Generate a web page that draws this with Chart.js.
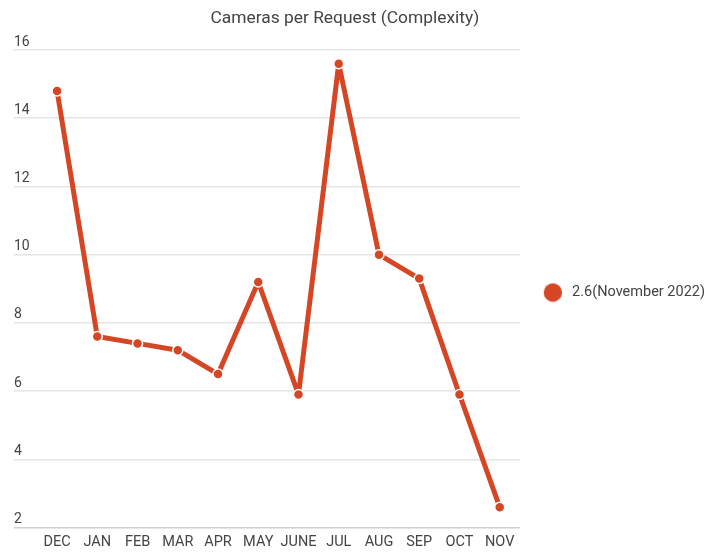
<!DOCTYPE html>
<html><head><meta charset="utf-8">
<script src="https://cdn.jsdelivr.net/npm/chart.js@4"></script>
<style>html,body{margin:0;padding:0;background:#fff}#wrap{width:723px;height:554px}</style>
</head><body><div id="wrap"><canvas id="c"></canvas></div>
<script>
const categories = ['DEC','JAN','FEB','MAR','APR','MAY','JUNE','JUL','AUG','SEP','OCT','NOV'];
const values = [14.8, 7.6, 7.4, 7.2, 6.5, 9.2, 5.9, 15.6, 10.0, 9.3, 5.9, 2.6];
const seriesName = '2.6(November 2022)';
const yTicks = [2, 4, 6, 8, 10, 12, 14, 16];
const titleText = 'Cameras per Request (Complexity)';

const lineColor = '#d54624';
const points = values.map((v, i) => ({x: i, y: v}));

// legend marker: a filled circle
const marker = document.createElement('canvas');
marker.width = 20; marker.height = 20;
(function(){
  const m = marker.getContext('2d');
  m.fillStyle = lineColor;
  m.beginPath(); m.arc(10, 10, 9.2, 0, Math.PI * 2); m.fill();
})();

const titlePlugin = {
  id: 'offsetTitle',
  afterLayout(chart) {
    // lift the legend a little so it sits at the chart's visual middle
    if (chart.legend) { chart.legend.top -= 11; chart.legend.bottom -= 11; }
  },
  afterDraw(chart) {
    const ctx = chart.ctx;
    const a = chart.chartArea;
    ctx.save();
    ctx.font = '17.4px Roboto';
    ctx.fillStyle = '#444';
    ctx.textAlign = 'center';
    ctx.textBaseline = 'middle';
    ctx.fillText(titleText, a.left + (a.right - a.left) * 0.654, 19);
    ctx.restore();
  }
};

new Chart(document.getElementById('c'), {
  type: 'line',
  data: {
    datasets: [{
      label: seriesName,
      data: points,
      borderColor: lineColor,
      backgroundColor: lineColor,
      borderWidth: 5,
      borderJoinStyle: 'round',
      borderCapStyle: 'round',
      pointRadius: 5,
      pointBorderColor: '#ffffff',
      pointBorderWidth: 1.5,
      pointBackgroundColor: lineColor,
      tension: 0
    }]
  },
  plugins: [titlePlugin],
  options: {
    responsive: true,
    maintainAspectRatio: false,
    animation: false,
    layout: {padding: {left: 14, right: 8, top: 50, bottom: -3}},
    plugins: {
      tooltip: {enabled: false},
      title: {display: false},
      legend: {
        position: 'right',
        align: 'center',
        maxWidth: 300,
        labels: {
          usePointStyle: true,
          pointStyle: marker,
          pointStyleWidth: 24,
          boxHeight: 13,
          color: '#444',
          font: {family: 'Roboto', size: 14.5},
          padding: 21
        }
      }
    },
    scales: {
      x: {
        type: 'linear',
        min: -1.07,
        max: 11.5,
        afterBuildTicks: (scale) => { scale.ticks = categories.map((_, i) => ({value: i})); },
        grid: {display: false, drawTicks: false},
        border: {display: false},
        ticks: {
          autoSkip: false,
          maxRotation: 0,
          padding: 6,
          color: '#444',
          font: {family: 'Roboto', size: 14.5},
          callback: (v) => categories[v]
        }
      },
      y: {
        min: 2,
        max: 16,
        afterBuildTicks: (scale) => { scale.ticks = yTicks.map(v => ({value: v})); },
        border: {display: false},
        grid: {
          color: (ctx) => ctx.tick && ctx.tick.value === 2 ? '#cfcfcf' : '#e4e4e4',
          lineWidth: 1.5,
          drawTicks: false,
          tickLength: 0
        },
        ticks: {
          mirror: true,
          padding: 0,
          labelOffset: -8,
          color: '#444',
          font: {family: 'Roboto', size: 14}
        }
      }
    }
  }
});
</script>
</body></html>
